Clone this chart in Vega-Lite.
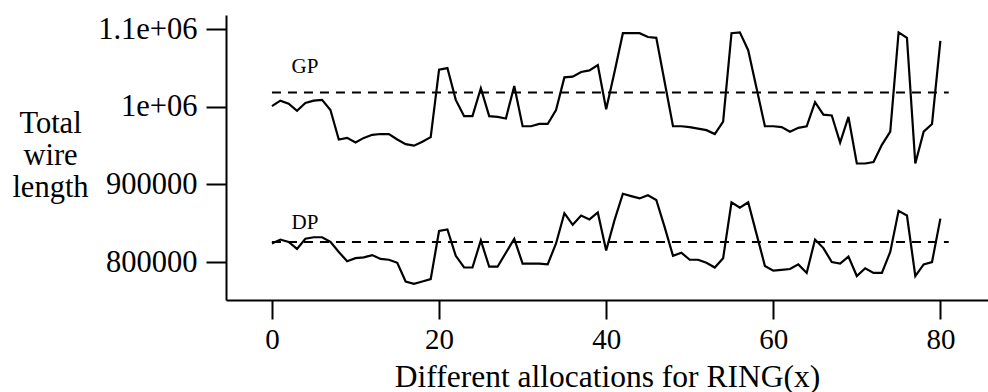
{
  "$schema": "https://vega.github.io/schema/vega-lite/v6.json",
  "width": 762,
  "height": 285,
  "autosize": {"type": "none"},
  "padding": {"left": 226, "top": 15, "right": 0, "bottom": 92},
  "background": "white",
  "config": {
    "view": {"stroke": null},
    "font": "Liberation Serif, Times New Roman, serif",
    "axis": {"labelFont": "Liberation Serif, Times New Roman, serif", "titleFont": "Liberation Serif, Times New Roman, serif"},
    "text": {"font": "Liberation Serif, Times New Roman, serif"}
  },
  "datasets": {
    "runs": [
      {"x":0,"gp":1001000,"dp":824000},{"x":1,"gp":1008000,"dp":829000},{"x":2,"gp":1004000,"dp":826000},
      {"x":3,"gp":995000,"dp":817000},{"x":4,"gp":1005000,"dp":830000},{"x":5,"gp":1008000,"dp":832000},
      {"x":6,"gp":1009000,"dp":832000},{"x":7,"gp":996000,"dp":826000},{"x":8,"gp":958000,"dp":813000},
      {"x":9,"gp":960000,"dp":801000},{"x":10,"gp":954000,"dp":805000},{"x":11,"gp":960000,"dp":806000},
      {"x":12,"gp":964000,"dp":809000},{"x":13,"gp":965000,"dp":804000},{"x":14,"gp":965000,"dp":803000},
      {"x":15,"gp":958000,"dp":799000},{"x":16,"gp":952000,"dp":775000},{"x":17,"gp":950000,"dp":772000},
      {"x":18,"gp":955000,"dp":775000},{"x":19,"gp":961000,"dp":778000},{"x":20,"gp":1048000,"dp":840000},
      {"x":21,"gp":1050000,"dp":842000},{"x":22,"gp":1009000,"dp":808000},{"x":23,"gp":988000,"dp":793000},
      {"x":24,"gp":988000,"dp":793000},{"x":25,"gp":1024000,"dp":828000},{"x":26,"gp":988000,"dp":794000},
      {"x":27,"gp":987000,"dp":794000},{"x":28,"gp":985000,"dp":812000},{"x":29,"gp":1027000,"dp":830000},
      {"x":30,"gp":975000,"dp":798000},{"x":31,"gp":975000,"dp":798000},{"x":32,"gp":978000,"dp":798000},
      {"x":33,"gp":978000,"dp":797000},{"x":34,"gp":996000,"dp":824000},{"x":35,"gp":1038000,"dp":863000},
      {"x":36,"gp":1039000,"dp":848000},{"x":37,"gp":1045000,"dp":860000},{"x":38,"gp":1047000,"dp":855000},
      {"x":39,"gp":1054000,"dp":864000},{"x":40,"gp":997000,"dp":815000},{"x":41,"gp":1045000,"dp":854000},
      {"x":42,"gp":1095000,"dp":888000},{"x":43,"gp":1095000,"dp":885000},{"x":44,"gp":1095000,"dp":882000},
      {"x":45,"gp":1090000,"dp":886000},{"x":46,"gp":1089000,"dp":880000},{"x":47,"gp":1032000,"dp":845000},
      {"x":48,"gp":975000,"dp":808000},{"x":49,"gp":975000,"dp":812000},{"x":50,"gp":974000,"dp":803000},
      {"x":51,"gp":972000,"dp":803000},{"x":52,"gp":970000,"dp":799000},{"x":53,"gp":965000,"dp":793000},
      {"x":54,"gp":981000,"dp":805000},{"x":55,"gp":1095000,"dp":877000},{"x":56,"gp":1096000,"dp":870000},
      {"x":57,"gp":1073000,"dp":877000},{"x":58,"gp":1024000,"dp":836000},{"x":59,"gp":975000,"dp":795000},
      {"x":60,"gp":975000,"dp":789000},{"x":61,"gp":974000,"dp":790000},{"x":62,"gp":968000,"dp":791000},
      {"x":63,"gp":973000,"dp":797000},{"x":64,"gp":975000,"dp":786000},{"x":65,"gp":1006000,"dp":829000},
      {"x":66,"gp":990000,"dp":818000},{"x":67,"gp":989000,"dp":800000},{"x":68,"gp":954000,"dp":798000},
      {"x":69,"gp":987000,"dp":807000},{"x":70,"gp":927000,"dp":782000},{"x":71,"gp":927000,"dp":792000},
      {"x":72,"gp":929000,"dp":786000},{"x":73,"gp":951000,"dp":786000},{"x":74,"gp":968000,"dp":813000},
      {"x":75,"gp":1096000,"dp":866000},{"x":76,"gp":1089000,"dp":860000},{"x":77,"gp":927000,"dp":782000},
      {"x":78,"gp":968000,"dp":797000},{"x":79,"gp":978000,"dp":800000},{"x":80,"gp":1085000,"dp":856000}
    ],
    "refs": [
      {"name":"GP","level":1018400,"x0":0,"x1":81},
      {"name":"DP","level":825700,"x0":0,"x1":81}
    ],
    "labels": [
      {"name":"GP","x":3.95,"y":1052000},
      {"name":"DP","x":3.95,"y":850200}
    ]
  },
  "encoding": {
    "x": {
      "type": "quantitative",
      "scale": {"domain": [-5.5, 85.7], "nice": false, "zero": false},
      "axis": {
        "values": [0, 20, 40, 60, 80],
        "title": "Different allocations for RING(x)",
        "titleFont": "Liberation Serif, Times New Roman, serif",
        "titleFontSize": 31.5,
        "titleFontWeight": "normal",
        "titleColor": "black",
        "titleBaseline": "alphabetic",
        "titleY": 86,
        "labelFont": "Liberation Serif, Times New Roman, serif",
        "labelFontSize": 29,
        "labelColor": "black",
        "labelPadding": 6,
        "tickSize": 19,
        "tickWidth": 2,
        "tickColor": "black",
        "domainColor": "black",
        "domainWidth": 2,
        "grid": false,
        "labelFlush": false
      }
    }
  },
  "layer": [
    {
      "data": {"name": "runs"},
      "mark": {"type": "line", "color": "black", "strokeWidth": 2.2},
      "encoding": {
        "x": {"field": "x", "type": "quantitative"},
        "y": {
          "field": "gp",
          "type": "quantitative",
          "scale": {"domain": [751100, 1118400], "nice": false, "zero": false},
          "axis": {
            "values": [800000, 900000, 1000000, 1100000],
            "labelExpr": "datum.value == 1000000 ? '1e+06' : datum.value == 1100000 ? '1.1e+06' : format(datum.value, 'd')",
            "title": ["Total", "wire", "length"],
            "titleAngle": 0,
            "titleAlign": "center",
            "titleBaseline": "middle",
            "titleX": -176,
            "titleY": 108,
            "titleLineHeight": 32,
            "titleFont": "Liberation Serif, Times New Roman, serif",
            "titleFontSize": 30.5,
            "titleFontWeight": "normal",
            "titleColor": "black",
            "labelFont": "Liberation Serif, Times New Roman, serif",
            "labelFontSize": 30.5,
            "labelColor": "black",
            "labelPadding": 9,
            "tickSize": 20,
            "tickWidth": 2,
            "tickColor": "black",
            "domainColor": "black",
            "domainWidth": 2,
            "grid": false
          }
        }
      }
    },
    {
      "data": {"name": "runs"},
      "mark": {"type": "line", "color": "black", "strokeWidth": 2.2},
      "encoding": {
        "x": {"field": "x", "type": "quantitative"},
        "y": {"field": "dp", "type": "quantitative"}
      }
    },
    {
      "data": {"name": "refs"},
      "mark": {"type": "rule", "color": "black", "strokeWidth": 2, "strokeDash": [9, 7]},
      "encoding": {
        "x": {"field": "x0", "type": "quantitative"},
        "x2": {"field": "x1"},
        "y": {"field": "level", "type": "quantitative"}
      }
    },
    {
      "data": {"name": "labels"},
      "mark": {"type": "text", "color": "black", "font": "Liberation Serif, Times New Roman, serif", "fontSize": 21, "align": "center", "baseline": "middle"},
      "encoding": {
        "x": {"field": "x", "type": "quantitative"},
        "y": {"field": "y", "type": "quantitative"},
        "text": {"field": "name"}
      }
    }
  ]
}
